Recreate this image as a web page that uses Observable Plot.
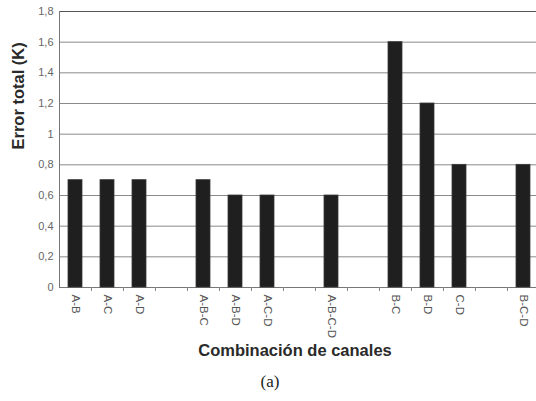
<!DOCTYPE html>
<html>
<head>
<meta charset="utf-8">
<script src="https://cdn.jsdelivr.net/npm/d3@7"></script>
<script src="https://cdn.jsdelivr.net/npm/@observablehq/plot@0.6"></script>
<style>
  html, body { margin: 0; padding: 0; background: #fff; }
</style>
</head>
<body>
<div id="chart"></div>
<script>
// Slots along the x axis; entries starting with "_" are empty spacer slots.
const slots = ["A-B", "A-C", "A-D", "_1", "A-B-C", "A-B-D", "A-C-D", "_2", "A-B-C-D", "_3", "B-C", "B-D", "C-D", "_4", "B-C-D"];
// Channel combinations and their total error (K)
const combos = ["A-B", "A-C", "A-D", "A-B-C", "A-B-D", "A-C-D", "A-B-C-D", "B-C", "B-D", "C-D", "B-C-D"];
const errors = [0.7, 0.7, 0.7, 0.7, 0.6, 0.6, 0.6, 1.6, 1.2, 0.8, 0.8];
const yTicks = [0, 0.2, 0.4, 0.6, 0.8, 1, 1.2, 1.4, 1.6, 1.8];

const data = combos.map((c, i) => ({combo: c, error: errors[i]}));
const comma = d => String(d).replace(".", ",");
const font = "Liberation Sans, Arial, sans-serif";

const chart = Plot.plot({
  width: 536,
  height: 401,
  marginTop: 11,
  marginBottom: 114,
  marginLeft: 59,
  marginRight: 0,
  style: {fontFamily: font, background: "#fff"},
  x: {type: "band", domain: slots, range: [59, 539], paddingInner: 0.5625, paddingOuter: 0.28125},
  y: {domain: [0, 1.8], range: [287, 11]},
  marks: [
    Plot.ruleY(yTicks, {stroke: "#8a8a8a", strokeWidth: 1}),
    Plot.ruleY([1.8], {stroke: "#555", strokeWidth: 1.2}),
    Plot.ruleY([0], {stroke: "#777", strokeWidth: 1.2}),
    Plot.frame({anchor: "left", stroke: "#777"}),
    Plot.rectY(data, {x: "combo", y: "error", fill: "#1f1f1f", stroke: "#3a3a3a", strokeWidth: 0.8}),
    // small boundary ticks between slots
    Plot.axisX({tickSize: 4, dx: 16, tickFormat: null, stroke: "#888", label: null}),
    Plot.axisX({
      tickSize: 0, tickPadding: 7, tickRotate: 90, label: null,
      tickFormat: d => d.startsWith("_") ? "" : d,
      fontSize: 11.5, fill: "#555"
    }),
    Plot.axisY({ticks: yTicks, tickFormat: comma, tickSize: 0, tickPadding: 6, fontSize: 11, fill: "#666", label: null}),
    Plot.text(["Error total (K)"], {
      frameAnchor: "left", rotate: -90, dx: -41,
      fontSize: 16.5, fontWeight: "bold", fill: "#2a2a2a"
    }),
    Plot.text(["Combinación de canales"], {
      frameAnchor: "bottom", dy: 68, dx: -3,
      fontSize: 16.5, fontWeight: "bold", fill: "#2a2a2a"
    }),
    Plot.text(["(a)"], {
      frameAnchor: "bottom", dy: 99, dx: -28,
      fontSize: 17, fontFamily: "Liberation Serif, DejaVu Serif, serif", fill: "#222"
    })
  ]
});
document.getElementById("chart").append(chart);
</script>
</body>
</html>
